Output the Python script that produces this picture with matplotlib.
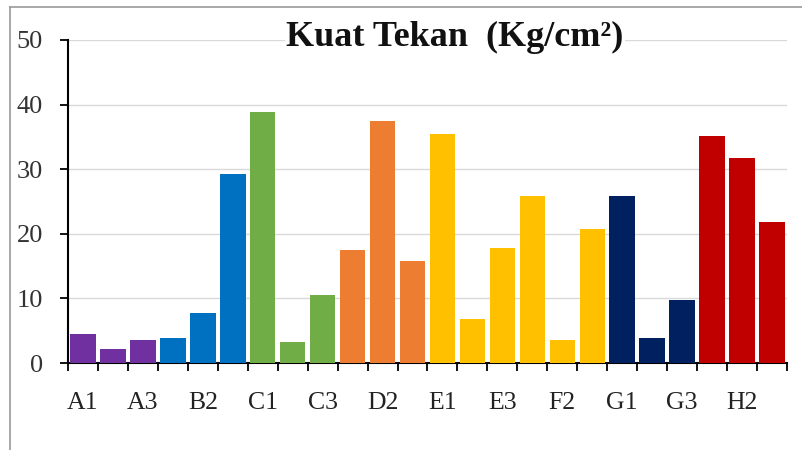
import matplotlib
matplotlib.use("Agg")
import matplotlib.pyplot as plt
from matplotlib.lines import Line2D

categories = ["A1", "A2", "A3", "B1", "B2", "B3", "C1", "C2", "C3",
              "D1", "D2", "D3", "E1", "E2", "E3", "F1", "F2", "F3",
              "G1", "G2", "G3", "H1", "H2", "H3"]
values = [4.5, 2.1, 3.5, 3.8, 7.8, 29.2, 38.8, 3.2, 10.5,
          17.5, 37.5, 15.8, 35.4, 6.8, 17.8, 25.8, 3.5, 20.8,
          25.8, 3.8, 9.8, 35.1, 31.8, 21.8]
colors = ["#7030A0"] * 3 + ["#0070C0"] * 3 + ["#70AD47"] * 3 + ["#ED7D31"] * 3 \
    + ["#FFC000"] * 6 + ["#002060"] * 3 + ["#C00000"] * 3
title = "Kuat Tekan  (Kg/cm²)"
yticks = [0, 10, 20, 30, 40, 50]

plt.rcParams['font.family'] = ['Liberation Serif', 'DejaVu Serif']

fig = plt.figure(figsize=(8.03, 4.5), dpi=100)
W, H = 803, 450
ax = fig.add_axes([68 / W, 1 - 363 / H, (787 - 68) / W, (363 - 40) / H])

x = list(range(len(categories)))
ax.bar(x, values, width=0.85, color=colors, zorder=3)

ax.set_xlim(-0.5, len(categories) - 0.5)
ax.set_ylim(0, 50)
ax.set_yticks(yticks)
ax.set_yticklabels([str(v) for v in yticks])
ax.yaxis.grid(True, color="#D9D9D9", linewidth=1.0, zorder=0)
ax.set_axisbelow(True)

# tick marks at category boundaries, labels every other category
ax.set_xticks([i - 0.5 for i in range(len(categories) + 1)])
ax.set_xticklabels([])
ax.set_xticks(x[::2], minor=True)
ax.set_xticklabels(categories[::2], minor=True)
ax.tick_params(axis='x', which='major', direction='out', length=6, width=1.3, color='black')
ax.tick_params(axis='x', which='minor', length=0, pad=21, labelsize=18.5, labelcolor='#222222')
ax.tick_params(axis='y', direction='out', length=6, width=1.3, pad=12, labelsize=19, labelcolor='#333333')

for s in ['top', 'right']:
    ax.spines[s].set_visible(False)
for s in ['left', 'bottom']:
    ax.spines[s].set_linewidth(1.5)
    ax.spines[s].set_color('black')

fig.text(455 / W, 1 - 46 / H, title, ha='center', va='baseline', fontsize=26,
         fontweight='bold', color='#111111',
         bbox=dict(facecolor='white', edgecolor='none', pad=1))

# chart frame (cut off at right and bottom)
fig.add_artist(Line2D([10 / W, 1], [1 - 7 / H, 1 - 7 / H], transform=fig.transFigure,
                      color='#999999', linewidth=1.2))
fig.add_artist(Line2D([10 / W, 10 / W], [0, 1 - 7 / H], transform=fig.transFigure,
                      color='#999999', linewidth=1.2))

fig.savefig("out.png", dpi=100)
